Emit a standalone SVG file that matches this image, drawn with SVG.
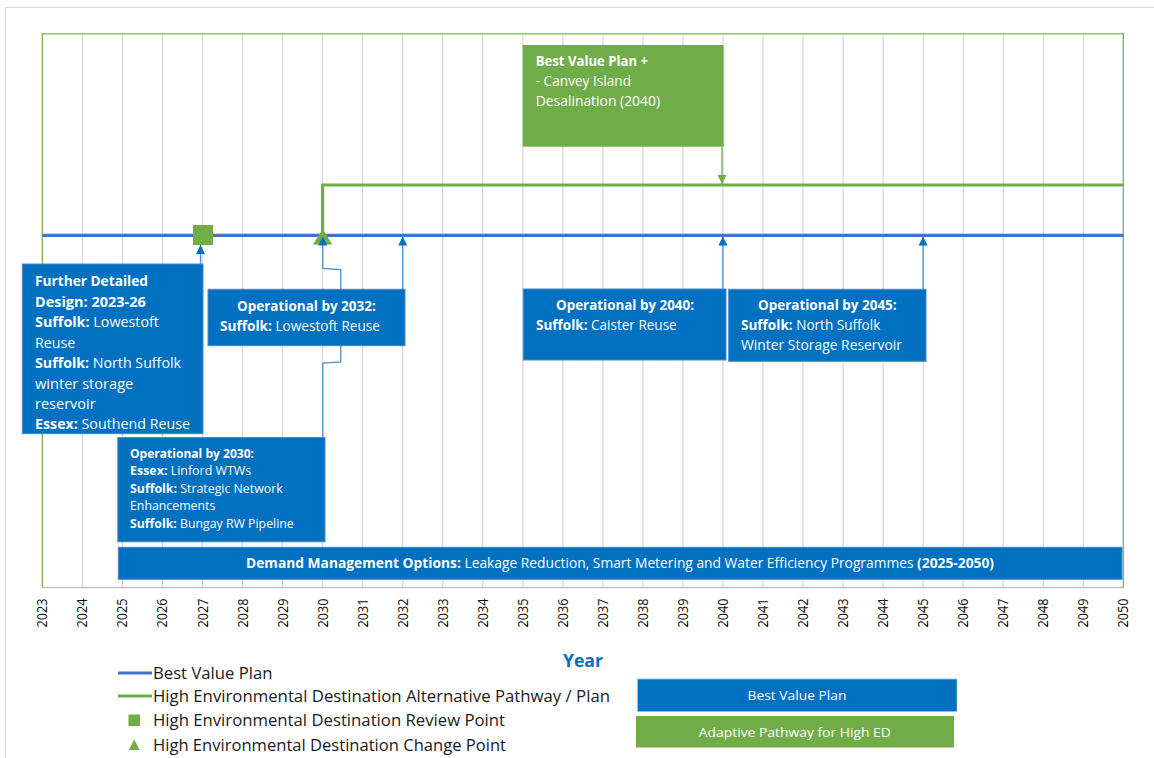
<svg xmlns="http://www.w3.org/2000/svg" width="1154" height="758" viewBox="0 0 1154 758">
<style>
text { font-family: "Open Sans", Lato, "Liberation Sans", sans-serif; }
.w { fill: #ffffff; font-size: 13.6px; }
.f { font-size: 14px; }
.s { font-size: 12.4px; }
.b { font-weight: bold; }
.grid line { stroke: #d9d9d9; stroke-width: 1.3; }
.yr { font-size: 14px; fill: #111; text-anchor: end; }
.lg { font-size: 16.4px; fill: #1a1a1a; }
.lb { font-size: 12.8px; }
.box { fill: #0070c0; stroke: #4a86c8; stroke-width: 1; }
.gbox { fill: #70ad47; }
.arr { fill: none; stroke: #4b8fd4; stroke-width: 1.3; marker-end: url(#ab); }
</style>
<defs>
<marker id="ab" viewBox="0 0 10 10" refX="10" refY="5" markerUnits="userSpaceOnUse" markerWidth="9" markerHeight="9" orient="auto">
<path d="M0,0 L10,5 L0,10 z" fill="#0070c0"/>
</marker>
<marker id="ag" viewBox="0 0 10 10" refX="10" refY="5" markerUnits="userSpaceOnUse" markerWidth="9" markerHeight="9" orient="auto">
<path d="M0,0 L10,5 L0,10 z" fill="#70ad47"/>
</marker>
</defs>
<rect x="0" y="0" width="1154" height="758" fill="#ffffff"/>
<rect x="5.5" y="7.5" width="1160" height="760" fill="none" stroke="#d9d9d9" stroke-width="1"/>

<g id="grid" class="grid">
<line x1="82.3" y1="34" x2="82.3" y2="587"/>
<line x1="122.4" y1="34" x2="122.4" y2="587"/>
<line x1="162.4" y1="34" x2="162.4" y2="587"/>
<line x1="202.5" y1="34" x2="202.5" y2="587"/>
<line x1="242.5" y1="34" x2="242.5" y2="587"/>
<line x1="282.5" y1="34" x2="282.5" y2="587"/>
<line x1="322.6" y1="34" x2="322.6" y2="587"/>
<line x1="362.6" y1="34" x2="362.6" y2="587"/>
<line x1="402.7" y1="34" x2="402.7" y2="587"/>
<line x1="442.7" y1="34" x2="442.7" y2="587"/>
<line x1="482.7" y1="34" x2="482.7" y2="587"/>
<line x1="522.8" y1="34" x2="522.8" y2="587"/>
<line x1="562.8" y1="34" x2="562.8" y2="587"/>
<line x1="602.9" y1="34" x2="602.9" y2="587"/>
<line x1="642.9" y1="34" x2="642.9" y2="587"/>
<line x1="682.9" y1="34" x2="682.9" y2="587"/>
<line x1="723.0" y1="34" x2="723.0" y2="587"/>
<line x1="763.0" y1="34" x2="763.0" y2="587"/>
<line x1="803.0" y1="34" x2="803.0" y2="587"/>
<line x1="843.1" y1="34" x2="843.1" y2="587"/>
<line x1="883.1" y1="34" x2="883.1" y2="587"/>
<line x1="923.2" y1="34" x2="923.2" y2="587"/>
<line x1="963.2" y1="34" x2="963.2" y2="587"/>
<line x1="1003.2" y1="34" x2="1003.2" y2="587"/>
<line x1="1043.3" y1="34" x2="1043.3" y2="587"/>
<line x1="1083.3" y1="34" x2="1083.3" y2="587"/>
</g>

<g id="frame">
<line x1="42.3" y1="33.8" x2="1123.3" y2="33.8" stroke="#92c46e" stroke-width="1.6"/>
<line x1="42.3" y1="33" x2="42.3" y2="588" stroke="#70ad47" stroke-width="1.2"/>
<line x1="1123.3" y1="33" x2="1123.3" y2="588" stroke="#70ad47" stroke-width="1.2"/>
<line x1="42" y1="587.5" x2="1124" y2="587.5" stroke="#bfbfbf" stroke-width="1.5"/>
</g>

<g id="years">
<text class="yr" transform="translate(47.3,598.5) rotate(-90)" textLength="29" lengthAdjust="spacingAndGlyphs">2023</text>
<text class="yr" transform="translate(87.3,598.5) rotate(-90)" textLength="29" lengthAdjust="spacingAndGlyphs">2024</text>
<text class="yr" transform="translate(127.4,598.5) rotate(-90)" textLength="29" lengthAdjust="spacingAndGlyphs">2025</text>
<text class="yr" transform="translate(167.4,598.5) rotate(-90)" textLength="29" lengthAdjust="spacingAndGlyphs">2026</text>
<text class="yr" transform="translate(207.5,598.5) rotate(-90)" textLength="29" lengthAdjust="spacingAndGlyphs">2027</text>
<text class="yr" transform="translate(247.5,598.5) rotate(-90)" textLength="29" lengthAdjust="spacingAndGlyphs">2028</text>
<text class="yr" transform="translate(287.5,598.5) rotate(-90)" textLength="29" lengthAdjust="spacingAndGlyphs">2029</text>
<text class="yr" transform="translate(327.6,598.5) rotate(-90)" textLength="29" lengthAdjust="spacingAndGlyphs">2030</text>
<text class="yr" transform="translate(367.6,598.5) rotate(-90)" textLength="29" lengthAdjust="spacingAndGlyphs">2031</text>
<text class="yr" transform="translate(407.7,598.5) rotate(-90)" textLength="29" lengthAdjust="spacingAndGlyphs">2032</text>
<text class="yr" transform="translate(447.7,598.5) rotate(-90)" textLength="29" lengthAdjust="spacingAndGlyphs">2033</text>
<text class="yr" transform="translate(487.7,598.5) rotate(-90)" textLength="29" lengthAdjust="spacingAndGlyphs">2034</text>
<text class="yr" transform="translate(527.8,598.5) rotate(-90)" textLength="29" lengthAdjust="spacingAndGlyphs">2035</text>
<text class="yr" transform="translate(567.8,598.5) rotate(-90)" textLength="29" lengthAdjust="spacingAndGlyphs">2036</text>
<text class="yr" transform="translate(607.9,598.5) rotate(-90)" textLength="29" lengthAdjust="spacingAndGlyphs">2037</text>
<text class="yr" transform="translate(647.9,598.5) rotate(-90)" textLength="29" lengthAdjust="spacingAndGlyphs">2038</text>
<text class="yr" transform="translate(687.9,598.5) rotate(-90)" textLength="29" lengthAdjust="spacingAndGlyphs">2039</text>
<text class="yr" transform="translate(728,598.5) rotate(-90)" textLength="29" lengthAdjust="spacingAndGlyphs">2040</text>
<text class="yr" transform="translate(768,598.5) rotate(-90)" textLength="29" lengthAdjust="spacingAndGlyphs">2041</text>
<text class="yr" transform="translate(808,598.5) rotate(-90)" textLength="29" lengthAdjust="spacingAndGlyphs">2042</text>
<text class="yr" transform="translate(848.1,598.5) rotate(-90)" textLength="29" lengthAdjust="spacingAndGlyphs">2043</text>
<text class="yr" transform="translate(888.1,598.5) rotate(-90)" textLength="29" lengthAdjust="spacingAndGlyphs">2044</text>
<text class="yr" transform="translate(928.2,598.5) rotate(-90)" textLength="29" lengthAdjust="spacingAndGlyphs">2045</text>
<text class="yr" transform="translate(968.2,598.5) rotate(-90)" textLength="29" lengthAdjust="spacingAndGlyphs">2046</text>
<text class="yr" transform="translate(1008.2,598.5) rotate(-90)" textLength="29" lengthAdjust="spacingAndGlyphs">2047</text>
<text class="yr" transform="translate(1048.3,598.5) rotate(-90)" textLength="29" lengthAdjust="spacingAndGlyphs">2048</text>
<text class="yr" transform="translate(1088.3,598.5) rotate(-90)" textLength="29" lengthAdjust="spacingAndGlyphs">2049</text>
<text class="yr" transform="translate(1128.3,598.5) rotate(-90)" textLength="29" lengthAdjust="spacingAndGlyphs">2050</text>
<text x="583" y="667" font-size="18px" font-weight="bold" fill="#0070c0" text-anchor="middle" textLength="40" lengthAdjust="spacingAndGlyphs">Year</text>
</g>

<g id="pathways">
<line x1="42.3" y1="235.3" x2="1123.3" y2="235.3" stroke="#4472c4" stroke-width="3.2"/>
<polyline points="322.6,231 322.6,185 1123.3,185" fill="none" stroke="#70ad47" stroke-width="3.2"/>
<rect id="review-point" x="193" y="225" width="20" height="20" fill="#70ad47"/>
<polygon id="change-point" points="322.6,229 332.3,244.5 313,244.5" fill="#70ad47"/>
</g>

<g id="connectors">
<line class="arr" x1="200.5" y1="264" x2="200.5" y2="245"/>
<polyline class="arr" points="322.8,437.5 322.8,363 340.8,362 340.8,269.5 322.8,268.5 322.8,236.5"/>
<line class="arr" x1="402.7" y1="289.5" x2="402.7" y2="236.5"/>
<line class="arr" x1="722.9" y1="289" x2="722.9" y2="236.5"/>
<line class="arr" x1="923.1" y1="289.5" x2="923.1" y2="236.5"/>
<line x1="722" y1="147" x2="722" y2="184" stroke="#70ad47" stroke-width="1.3" marker-end="url(#ag)"/>
</g>

<g id="node-bvp-plus">
<rect class="gbox" x="522.7" y="45" width="201" height="101.7"/>
<text class="w b" x="535.7" y="66" textLength="112.3" lengthAdjust="spacingAndGlyphs">Best Value Plan +</text>
<text class="w" x="535.7" y="86" textLength="95.3" lengthAdjust="spacingAndGlyphs">- Canvey Island</text>
<text class="w" x="535.7" y="106" textLength="124.3" lengthAdjust="spacingAndGlyphs">Desalination (2040)</text>
</g>

<g id="node-further-design">
<rect class="box" x="22.3" y="264" width="180.7" height="169.7"/>
<text class="w f b" x="35" y="286" textLength="113" lengthAdjust="spacingAndGlyphs">Further Detailed</text>
<text class="w f b" x="35" y="306.5" textLength="110.7" lengthAdjust="spacingAndGlyphs">Design: 2023-26</text>
<text class="w f" x="35" y="327" textLength="124" lengthAdjust="spacingAndGlyphs"><tspan class="b">Suffolk:</tspan> Lowestoft</text>
<text class="w f" x="35" y="347.5" textLength="40.3" lengthAdjust="spacingAndGlyphs">Reuse</text>
<text class="w f" x="35" y="368" textLength="146" lengthAdjust="spacingAndGlyphs"><tspan class="b">Suffolk:</tspan> North Suffolk</text>
<text class="w f" x="35" y="388.5" textLength="98.3" lengthAdjust="spacingAndGlyphs">winter storage</text>
<text class="w f" x="35" y="409" textLength="60.7" lengthAdjust="spacingAndGlyphs">reservoir</text>
<text class="w f" x="35" y="429" textLength="155" lengthAdjust="spacingAndGlyphs"><tspan class="b">Essex:</tspan> Southend Reuse</text>
</g>

<g id="node-op2032">
<rect class="box" x="208" y="289.3" width="197" height="56.4"/>
<text class="w b" x="306.4" y="311" text-anchor="middle" textLength="138.7" lengthAdjust="spacingAndGlyphs">Operational by 2032:</text>
<text class="w" x="220" y="331" textLength="160" lengthAdjust="spacingAndGlyphs"><tspan class="b">Suffolk:</tspan> Lowestoft Reuse</text>
</g>

<g id="node-op2030">
<rect class="box" x="117.8" y="437.5" width="207.2" height="104.3"/>
<text class="w s b" x="130" y="457.7" textLength="124" lengthAdjust="spacingAndGlyphs">Operational by 2030:</text>
<text class="w s" x="130" y="475.2" textLength="121.3" lengthAdjust="spacingAndGlyphs"><tspan class="b">Essex:</tspan> Linford WTWs</text>
<text class="w s" x="130" y="492.8" textLength="152.7" lengthAdjust="spacingAndGlyphs"><tspan class="b">Suffolk:</tspan> Strategic Network</text>
<text class="w s" x="130" y="510.3" textLength="85.3" lengthAdjust="spacingAndGlyphs">Enhancements</text>
<text class="w s" x="130" y="528" textLength="163.7" lengthAdjust="spacingAndGlyphs"><tspan class="b">Suffolk:</tspan> Bungay RW Pipeline</text>
</g>

<g id="node-op2040">
<rect class="box" x="523.3" y="289" width="202.7" height="71"/>
<text class="w b" x="625" y="310" text-anchor="middle" textLength="138" lengthAdjust="spacingAndGlyphs">Operational by 2040:</text>
<text class="w" x="536" y="330" textLength="140.7" lengthAdjust="spacingAndGlyphs"><tspan class="b">Suffolk:</tspan> Caister Reuse</text>
</g>

<g id="node-op2045">
<rect class="box" x="728.7" y="289.3" width="197.3" height="72"/>
<text class="w b" x="827.3" y="310" text-anchor="middle" textLength="138.7" lengthAdjust="spacingAndGlyphs">Operational by 2045:</text>
<text class="w" x="741" y="330" textLength="139.3" lengthAdjust="spacingAndGlyphs"><tspan class="b">Suffolk:</tspan> North Suffolk</text>
<text class="w" x="741" y="349.5" textLength="161" lengthAdjust="spacingAndGlyphs">Winter Storage Reservoir</text>
</g>

<g id="node-demand">
<rect class="box" x="118.3" y="547.3" width="1003.7" height="32"/>
<text class="w" x="620" y="568" text-anchor="middle" font-size="13.8px" textLength="748" lengthAdjust="spacingAndGlyphs"><tspan class="b">Demand Management Options:</tspan> Leakage Reduction, Smart Metering and Water Efficiency Programmes <tspan class="b">(2025-2050)</tspan></text>
</g>

<g id="legend">
<line x1="118" y1="673" x2="152" y2="673" stroke="#4472c4" stroke-width="3"/>
<text class="lg" x="153" y="678.5" textLength="119.5" lengthAdjust="spacingAndGlyphs">Best Value Plan</text>
<line x1="118" y1="696" x2="152" y2="696" stroke="#70ad47" stroke-width="3"/>
<text class="lg" x="153" y="701.5" textLength="457" lengthAdjust="spacingAndGlyphs">High Environmental Destination Alternative Pathway / Plan</text>
<rect x="128.5" y="714.5" width="11.5" height="11.5" fill="#70ad47"/>
<text class="lg" x="153" y="725.5" textLength="352" lengthAdjust="spacingAndGlyphs">High Environmental Destination Review Point</text>
<polygon points="134.2,739.5 139.7,750 128.7,750" fill="#70ad47"/>
<text class="lg" x="153" y="750.5" textLength="353" lengthAdjust="spacingAndGlyphs">High Environmental Destination Change Point</text>
<rect x="637.5" y="679" width="319.5" height="32.5" fill="#0070c0" stroke="#9dc3e6" stroke-width="0.8"/>
<text class="w lb" x="797" y="700" text-anchor="middle" textLength="98.8" lengthAdjust="spacingAndGlyphs">Best Value Plan</text>
<rect x="636" y="716" width="318" height="31.5" fill="#70ad47"/>
<text class="w lb" x="794.8" y="736.5" text-anchor="middle" textLength="192" lengthAdjust="spacingAndGlyphs">Adaptive Pathway for High ED</text>
</g>
</svg>
